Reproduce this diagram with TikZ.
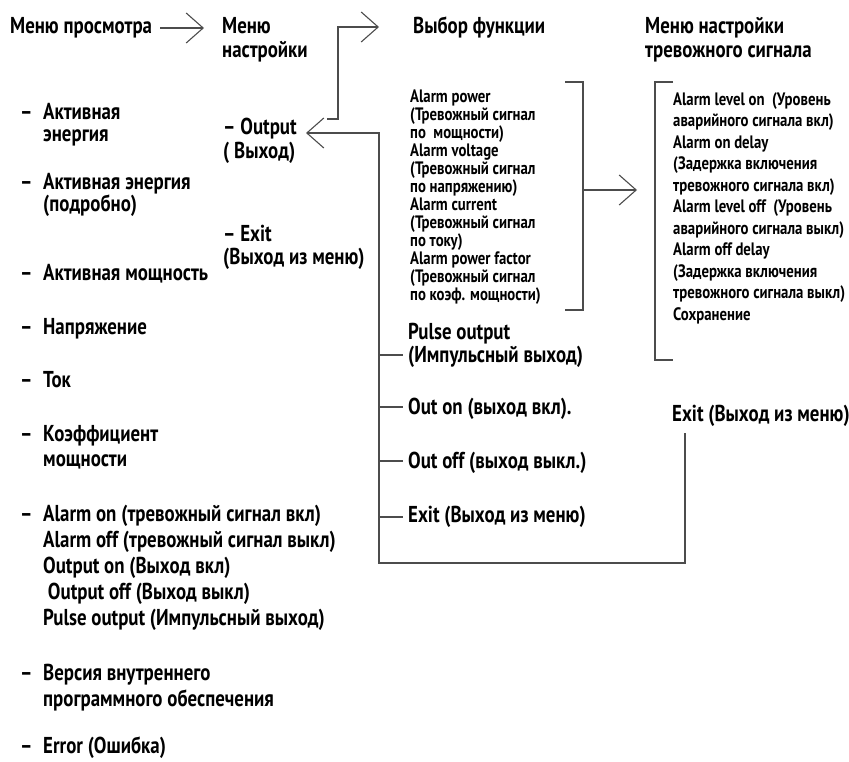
\documentclass[tikz,border=0pt]{standalone}
\usepackage{fontspec}
\usetikzlibrary{arrows.meta}
\newfontfamily\cf{PT Sans}[FakeStretch=0.82]
\newcommand{\fbig}[1]{\cf\bfseries\fontsize{23}{#1}\selectfont}
\newcommand{\fsmall}{\cf\bfseries\fontsize{18}{18}\selectfont}
\newcommand{\fmed}{\cf\bfseries\fontsize{18}{21.5}\selectfont}
\newcommand{\dsh}{\makebox[23pt][l]{–}}
\newcommand{\ind}{\hspace*{23pt}}
\begin{document}
\begin{tikzpicture}[x=1pt,y=-1pt,
  lbl/.style={anchor=base west,inner sep=0pt,align=left,font={\fbig{#1}}},
  lbl/.default=23.5,
  sml/.style={anchor=base west,inner sep=0pt,align=left,font=\fsmall},
  med/.style={anchor=base west,inner sep=0pt,align=left,font=\fmed},
  ln/.style={draw=black!70,line width=1.1pt},
  arr/.style={ln,-{Straight Barb[length=17pt,width=30pt,line width=1.1pt]}}]
\useasboundingbox (0,0) rectangle (849,762);
% headers (base = baseline of last line)
\node[lbl] (h1) at (10,34) {Меню просмотра};
\node[lbl] (h2) at (222,57.5) {Меню\\настройки};
\node[lbl] (h3) at (413,34) {Выбор функции};
\node[lbl] (h4) at (645,57.5) {Меню настройки\\тревожного сигнала};
% left column
\node[lbl=22.5] (l1) at (20,142) {\dsh Активная\\\ind энергия};
\node[lbl=22.5] (l2) at (20,212) {\dsh Активная энергия\\\ind (подробно)};
\node[lbl] (l3) at (20,280) {\dsh Активная мощность};
\node[lbl] (l4) at (20,334) {\dsh Напряжение};
\node[lbl] (l5) at (20,387) {\dsh Ток};
\node[lbl=25] (l6) at (20,466) {\dsh Коэффициент\\\ind мощности};
\node[lbl=26] (l7) at (20,625) {\dsh Alarm on (тревожный сигнал вкл)\\\ind Alarm off (тревожный сигнал выкл)\\\ind Output on (Выход вкл)\\\ind\ Output off (Выход выкл)\\\ind Pulse output (Импульсный выход)};
\node[lbl=26] (l8) at (20,706) {\dsh Версия внутреннего\\\ind программного обеспечения};
\node[lbl] (l9) at (20,753) {\dsh Error (Ошибка)};
% second column
\node[lbl=24] (o1) at (223,159) {– Output\\( Выход)};
\node[lbl=23.5] (o2) at (223,265) {– Exit\\(Выход из меню)};
% third column
\node[sml] (f1) at (410,300) {Alarm power\\(Тревожный сигнал\\по\ \ мощности)\\Alarm voltage\\(Тревожный сигнал\\по напряжению)\\Alarm current\\(Тревожный сигнал\\по току)\\Alarm power factor\\(Тревожный сигнал\\по коэф. мощности)};
\node[lbl] (p1) at (408,362.5) {Pulse output\\(Импульсный выход)};
\node[lbl] (p2) at (408,414) {Out on (выход вкл).};
\node[lbl] (p3) at (408,468) {Out off (выход выкл.)};
\node[lbl] (p4) at (408,522) {Exit (Выход из меню)};
% fourth column
\node[med] (r1) at (673,320) {Alarm level on\ \ (Уровень\\аварийного сигнала вкл)\\Alarm on delay\\(Задержка включения\\тревожного сигнала вкл)\\Alarm level off\ \ (Уровень\\аварийного сигнала выкл)\\Alarm off delay\\(Задержка включения\\тревожного сигнала выкл)\\Сохранение};
\node[lbl] (r2) at (672,421) {Exit (Выход из меню)};
% coordinates
\coordinate (a1s) at (160,28);
\coordinate (a1e) at (204,28);
\coordinate (a2s) at (327,119);
\coordinate (a2k) at (338,27);
\coordinate (a2e) at (379,27);
\coordinate (lpS) at (685,433);
\coordinate (lpB) at (379,563);
\coordinate (lpT) at (379,133);
\coordinate (lpE) at (306,133);
\coordinate (bk1) at (583,190);
\coordinate (bk1e) at (637,190);
% connectors
\draw[arr] (a1s) -- (a1e);
\draw[arr] (a2s) -| (a2k) -- (a2e);
\draw[arr] (lpS) |- (lpB) -- (lpT) -- (lpE);
\foreach \yy in {355,407,461,517} \draw[ln] (379,\yy) -- (403,\yy);
\draw[ln] (565,82) -- (583,82) -- (583,310) -- (565,310);
\draw[arr] (bk1) -- (bk1e);
\draw[ln] (673,82) -- (655,82) -- (655,360) -- (673,360);
\end{tikzpicture}
\end{document}
